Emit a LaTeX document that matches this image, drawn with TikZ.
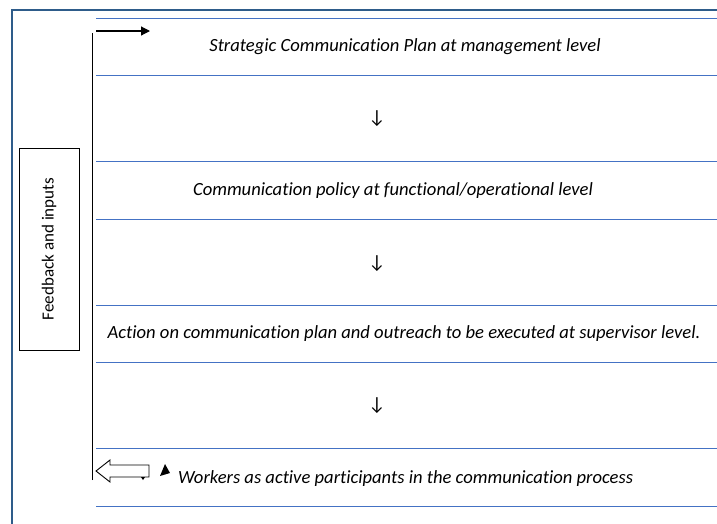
\documentclass[tikz,border=0pt]{standalone}
\usepackage{fontspec}
\setmainfont{Carlito}[Ligatures=NoCommon]
\usetikzlibrary{arrows.meta}
\definecolor{frameblue}{HTML}{2E5C8A}
\definecolor{lineblue}{HTML}{4472C4}
\tikzset{
  sep/.style={draw=lineblue, line width=1pt},
  level/.style={font=\fontsize{18.6}{22}\selectfont\itshape, inner sep=0pt, anchor=center},
  down/.style={font=\fontsize{19}{22}\selectfont, inner sep=0pt},
  fbbox/.style={draw, line width=0.9pt, minimum width=60pt, minimum height=202pt, inner sep=0pt},
}
\begin{document}
\begin{tikzpicture}[x=1pt,y=-1pt]
\useasboundingbox (0,0) rectangle (717,523);
% outer frame
\draw[frameblue, line width=1.2pt] (12,530) -- (12,10) -- (725,10);
% separator lines
\foreach \y in {18,75,161,219,305,362,448,506}
  \draw[sep] (96,\y) -- (720,\y);
% texts
\node[level] (s1) at (405,47) {Strategic Communication Plan at management level};
\node[down] (a1) at (377,119) {↓};
\node[level] (s2) at (393,191) {Communication policy at functional/operational level};
\node[down] (a2) at (377,264) {↓};
\node[level] (s3) at (404,334) {Action on communication plan and outreach to be executed at supervisor level.};
\node[down] (a3) at (377,406) {↓};
\node[level, anchor=west] (s4) at (178,479) {Workers as active participants in the communication process};
% feedback box
\node[fbbox] (fb) at (49,249) {};
\node[rotate=90, font=\fontsize{17}{20}\selectfont, inner sep=0pt] (fbt) at (fb.center) {Feedback and inputs};
% feedback line
\coordinate (vt) at (92,33);
\coordinate (vb) at (92,480);
\draw[line width=1pt] (vb) -- (vt);
\coordinate (at) at (96,31);
\coordinate (ah) at (150,31);
\draw[line width=1.2pt, -{Triangle[length=9pt,width=9pt]}] (at) -- (ah);
% hollow block arrow
\draw[line width=0.9pt, fill=white] (96,471) -- (110,460) -- (110,465) -- (149,465) -- (149,477) -- (110,477) -- (110,482) -- cycle;
\fill (141,477) -- (145,477) -- (143,480) -- cycle;
\fill (160,476) -- (170,473) -- (165,464) -- cycle;
\end{tikzpicture}
\end{document}
